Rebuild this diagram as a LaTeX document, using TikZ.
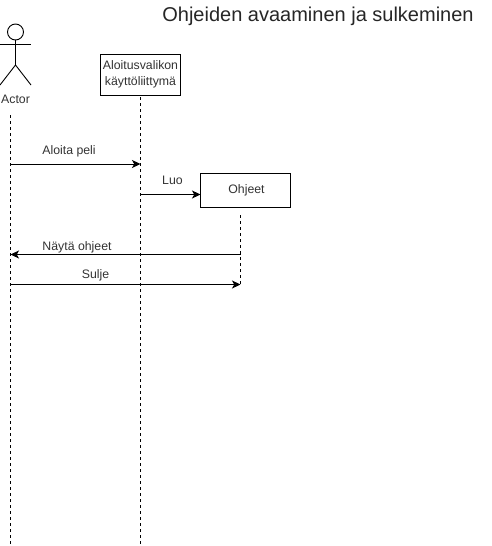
\documentclass[tikz,border=0pt]{standalone}
\usepackage{fontspec}
\setmainfont{Liberation Sans}
\usetikzlibrary{arrows.meta}
\tikzset{
  box/.style={draw=black,line width=1pt,fill=white,align=center,font=\fontsize{12.3}{15}\selectfont,text=black!80,inner sep=0pt},
  life/.style={draw=black,line width=0.9pt,dash pattern=on 3pt off 3pt},
  msg/.style={draw=black,line width=1pt,-{Stealth[length=8.5pt,width=8pt,inset=2.2pt]},shorten >=0pt},
  lbl/.style={font=\fontsize{12.3}{15}\selectfont,text=black!80,inner sep=0pt},
  limb/.style={draw=black,line width=0.9pt}
}
\begin{document}
\begin{tikzpicture}[x=1pt,y=-1pt]
\useasboundingbox (0,0) rectangle (492,546);
\node[font=\fontsize{20}{24}\selectfont,text=black!85,inner sep=0pt] (title) at (318,16.5) {Ohjeiden avaaminen ja sulkeminen};
% actor
\node[draw=black,line width=0.9pt,circle,minimum size=16pt,inner sep=0pt] (head) at (15.5,32) {};
\coordinate (hip) at (15.5,65);
\coordinate (armL) at (0,44);
\coordinate (armR) at (31,44);
\coordinate (legL) at (0,85);
\coordinate (legR) at (31,85);
\draw[limb] (head.south) -- (hip);
\draw[limb] (armL) -- (armR);
\draw[limb] (legL) -- (hip) -- (legR);
\node[lbl] (actor) at (15.5,99.5) {Actor};
% boxes
\node[box,minimum width=80pt,minimum height=41pt] (menu) at (140.5,74.5) {\raisebox{-1.5pt}{\shortstack{Aloitusvalikon\\[3.5pt]käyttöliittymä}}};
\node[box,minimum width=90pt,minimum height=34pt] (ohjeet) at (245.5,190.5) {\hspace*{2pt}\raisebox{-2.5pt}{Ohjeet}};
% lifelines
\coordinate (aTop) at (10.5,115);
\coordinate (aBot) at (10.5,545);
\coordinate (mTop) at (140.5,97);
\coordinate (mBot) at (140.5,545);
\coordinate (oTop) at (240.5,215);
\coordinate (oBot) at (240.5,285);
\draw[life] (aTop) -- (aBot);
\draw[life] (mTop) -- (mBot);
\draw[life] (oTop) -- (oBot);
% messages
\coordinate (a1) at (10.5,164);
\coordinate (m1) at (140.5,164);
\coordinate (m2) at (140.5,194.5);
\coordinate (o2) at (200.5,194.5);
\coordinate (o3) at (240.5,254.5);
\coordinate (a3) at (10.5,254.5);
\coordinate (a4) at (10.5,284.5);
\coordinate (o4) at (240.5,284.5);
\draw[msg] (a1) -- (m1);
\draw[msg] (m2) -- (o2);
\draw[msg] (o3) -- (a3);
\draw[msg] (a4) -- (o4);
\node[lbl] (l1) at (69,151.5) {Aloita peli};
\node[lbl] (l2) at (172.5,180.5) {Luo};
\node[lbl] (l3) at (77,247) {Näytä ohjeet};
\node[lbl] (l4) at (95.5,275) {Sulje};
\end{tikzpicture}
\end{document}
